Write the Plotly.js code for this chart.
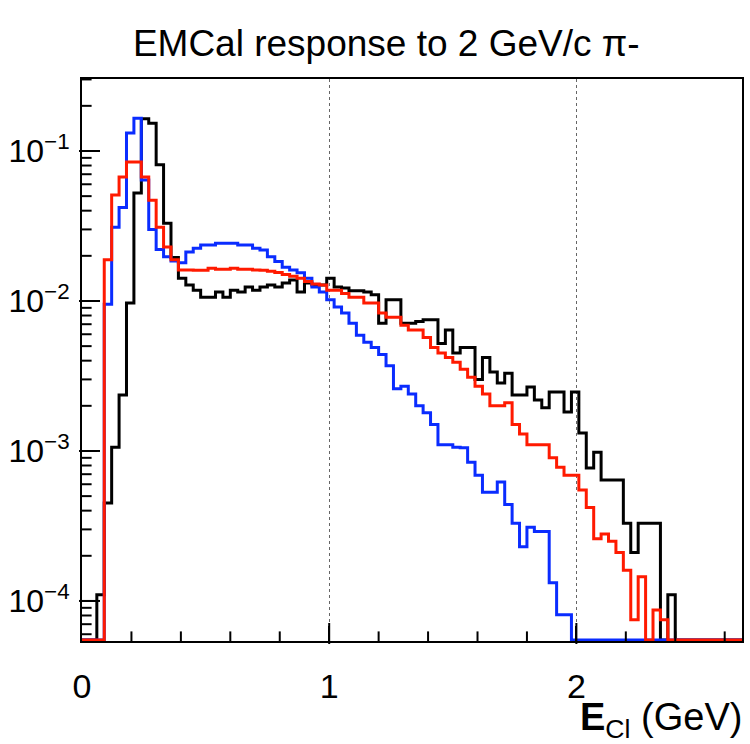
<!DOCTYPE html>
<html>
<head>
<meta charset="utf-8">
<script src="https://cdn.plot.ly/plotly-3.0.1.min.js"></script>
<style>html,body{margin:0;padding:0;background:#fff;}#chart{width:750px;height:744px;}</style>
</head>
<body>
<div id="chart"></div>
<script>
// Histogram binning (GeV)
const binWidth = 0.03;
const xMin = 0;
const xMax = 2.67;

// Bin contents, one value per bin (89 bins)
const blackHist = [
  0, 0, 0.00011, 0.00045, 0.00106, 0.00236, 0.0097, 0.0525, 0.164, 0.153,
  0.081, 0.033, 0.0195, 0.0142, 0.0128, 0.0118, 0.0106, 0.0106, 0.0115, 0.0106,
  0.0118, 0.0115, 0.0124, 0.0118, 0.0124, 0.0128, 0.0124, 0.0132, 0.0138, 0.0115,
  0.0132, 0.0128, 0.0128, 0.0142, 0.0124, 0.0122, 0.0117, 0.0117, 0.0115, 0.011,
  0.0071, 0.0102, 0.0102, 0.0071, 0.0071, 0.0073, 0.0075, 0.0075, 0.0052, 0.0064,
  0.0045, 0.0049, 0.0049, 0.0030, 0.0042, 0.00336, 0.00284, 0.0033, 0.00236, 0.00236,
  0.00267, 0.00219, 0.00194, 0.00247, 0.00247, 0.00182, 0.00247, 0.00132, 0.00077, 0.00098,
  0.00064, 0.00064, 0.00064, 0.00033, 0.00021, 0.00033, 0.00033, 0.00033, 0, 0.00011,
  0, 0, 0, 0, 0, 0, 0, 0, 0
];
const blueHist = [
  0, 0, 0, 0.0095, 0.031, 0.042, 0.132, 0.165, 0.064, 0.030,
  0.022, 0.0197, 0.0185, 0.018, 0.0212, 0.0225, 0.0236, 0.0236, 0.0243, 0.0243,
  0.0243, 0.0236, 0.0236, 0.0225, 0.0219, 0.0197, 0.0183, 0.0168, 0.0161, 0.0154,
  0.0142, 0.0124, 0.0115, 0.0102, 0.0091, 0.0083, 0.0071, 0.0059, 0.0053, 0.0049,
  0.0044, 0.0037, 0.0026, 0.0027, 0.0024, 0.0020, 0.0018, 0.0015, 0.0011, 0.0011,
  0.00106, 0.00105, 0.00084, 0.00069, 0.00053, 0.00053, 0.00062, 0.00044, 0.00033, 0.00023,
  0.00031, 0.00029, 0.00029, 0.000132, 0.000081, 0.000081, 0, 0, 0, 0,
  0, 0, 0, 0, 0, 0, 0, 0, 0, 0,
  0, 0, 0, 0, 0, 0, 0, 0, 0
];
const redHist = [
  0, 0, 0, 0.0188, 0.0509, 0.067, 0.0845, 0.0845, 0.067, 0.047,
  0.031, 0.0229, 0.0188, 0.0161, 0.0161, 0.016, 0.016, 0.0165, 0.0163, 0.0163,
  0.0165, 0.0163, 0.0163, 0.0161, 0.016, 0.0158, 0.0155, 0.015, 0.0146, 0.0142,
  0.0135, 0.013, 0.0128, 0.0118, 0.0118, 0.0112, 0.0106, 0.0106, 0.0097, 0.0097,
  0.0083, 0.0078, 0.0078, 0.0069, 0.0064, 0.0064, 0.0057, 0.0049, 0.0045, 0.0042,
  0.0039, 0.0035, 0.0031, 0.0027, 0.0024, 0.0020, 0.0020, 0.0021, 0.0015, 0.0013,
  0.0011, 0.0011, 0.0011, 0.0009, 0.00078, 0.00069, 0.00069, 0.00055, 0.00042, 0.00026,
  0.00028, 0.00025, 0.00021, 0.00016, 0.000075, 0.000145, 0, 0.000087, 0.000075, 0,
  0, 0, 0, 0, 0, 0, 0, 0, 0
];

// Axis
const yLogRange = [-4.267, -0.52];
const yTickVals = [1e-4, 1e-3, 1e-2, 1e-1];
const yTickText = ['10<sup>−4</sup>', '10<sup>−3</sup>', '10<sup>−2</sup>', '10<sup>−1</sup>'];
const xTickVals = [0, 1, 2];
const xTickText = ['0', '1', '2'];
const xMinorStep = 0.2;

const titleText = 'EMCal response to 2 GeV/c π-';
const xTitleText = '<b>E</b><sub>Cl</sub> (GeV)';

const margin = {l: 82, r: 8, t: 79, b: 103};
const plotW = 750 - margin.l - margin.r;
const plotH = 744 - margin.t - margin.b;

// Empty bins are drawn on the bottom of the frame, as ROOT does
const floorVal = Math.pow(10, yLogRange[0] + 0.006);
function stepTrace(hist, color) {
  const xs = [], ys = [];
  for (let i = 0; i < hist.length; i++) {
    xs.push(xMin + i * binWidth);
    ys.push(hist[i] > 0 ? hist[i] : floorVal);
  }
  xs.push(xMin + hist.length * binWidth);
  ys.push(hist[hist.length - 1] > 0 ? hist[hist.length - 1] : floorVal);
  return {x: xs, y: ys, type: 'scatter', mode: 'lines',
    line: {shape: 'hv', color: color, width: 3}, hoverinfo: 'skip', showlegend: false};
}

// Inside tick marks (ROOT style) drawn as line-shaped markers centred half a tick inside the frame
function tickMarkers() {
  const pxPerX = plotW / (xMax - xMin);
  const pxPerDec = plotH / (yLogRange[1] - yLogRange[0]);
  const groups = {yMaj: {x: [], y: []}, yMin: {x: [], y: []}, xMaj: {x: [], y: []}, xMin: {x: [], y: []}};
  for (let e = -5; e <= 0; e++) {
    for (let m = 1; m <= 9; m++) {
      const lv = Math.log10(m * Math.pow(10, e));
      if (lv <= yLogRange[0] || lv >= yLogRange[1]) continue;
      const len = m === 1 ? 15 : 8;
      const g = m === 1 ? groups.yMaj : groups.yMin;
      g.x.push(xMin + (len / 2) / pxPerX);
      g.y.push(Math.pow(10, lv));
    }
  }
  const n = Math.round((xMax - xMin) / xMinorStep);
  for (let k = 1; k <= n; k++) {
    const v = Math.round(k * xMinorStep * 10) / 10;
    if (v >= xMax) continue;
    const major = xTickVals.indexOf(v) >= 0;
    const len = major ? 15 : 8;
    const g = major ? groups.xMaj : groups.xMin;
    g.x.push(v);
    g.y.push(Math.pow(10, yLogRange[0] + (len / 2) / pxPerDec));
  }
  const mk = (g, sym, size) => ({x: g.x, y: g.y, type: 'scatter', mode: 'markers', cliponaxis: false,
    marker: {symbol: sym, size: size, color: '#000', line: {color: '#000', width: 2}},
    hoverinfo: 'skip', showlegend: false});
  return [mk(groups.yMaj, 'line-ew', 15), mk(groups.yMin, 'line-ew', 8),
          mk(groups.xMaj, 'line-ns', 15), mk(groups.xMin, 'line-ns', 8)];
}

const data = [
  stepTrace(blackHist, '#000000'),
  stepTrace(blueHist, '#0a2cff'),
  stepTrace(redHist, '#ff1a00')
].concat(tickMarkers());

const font = 'Liberation Sans, Arial, Helvetica, sans-serif';
const layout = {
  width: 750, height: 744,
  margin: margin,
  paper_bgcolor: '#fff', plot_bgcolor: '#fff',
  font: {family: font, color: '#000'},
  showlegend: false,
  title: {text: titleText, font: {family: font, size: 37, color: '#000'},
    x: 0.515, xref: 'container', xanchor: 'center', y: 1 - 43/744, yref: 'container', yanchor: 'middle'},
  xaxis: {
    type: 'linear', range: [xMin, xMax], autorange: false,
    tickmode: 'array', tickvals: xTickVals, ticktext: xTickText,
    ticks: 'inside', ticklen: 15, tickwidth: 2, tickcolor: '#000',
    tickfont: {family: font, size: 34, color: '#000'}, ticklabelstandoff: 14,
    showgrid: true, gridcolor: '#666', griddash: 'dot', gridwidth: 1.2,
    showline: true, linecolor: '#000', linewidth: 2, mirror: true, zeroline: false
  },
  yaxis: {
    type: 'log', range: yLogRange, autorange: false,
    tickmode: 'array', tickvals: yTickVals, ticktext: yTickText,
    ticks: 'inside', ticklen: 15, tickwidth: 2, tickcolor: '#000',
    tickfont: {family: font, size: 32, color: '#000'}, ticklabelstandoff: 4,
    showgrid: false,
    showline: true, linecolor: '#000', linewidth: 2, mirror: true, zeroline: false
  },
  annotations: [{
    text: xTitleText, xref: 'paper', x: 1.003, xanchor: 'right',
    yref: 'paper', y: -(720 - 641) / plotH, yanchor: 'middle', showarrow: false,
    font: {family: font, size: 38, color: '#000'}
  }]
};

Plotly.newPlot('chart', data, layout, {displayModeBar: false});
</script>
</body>
</html>
